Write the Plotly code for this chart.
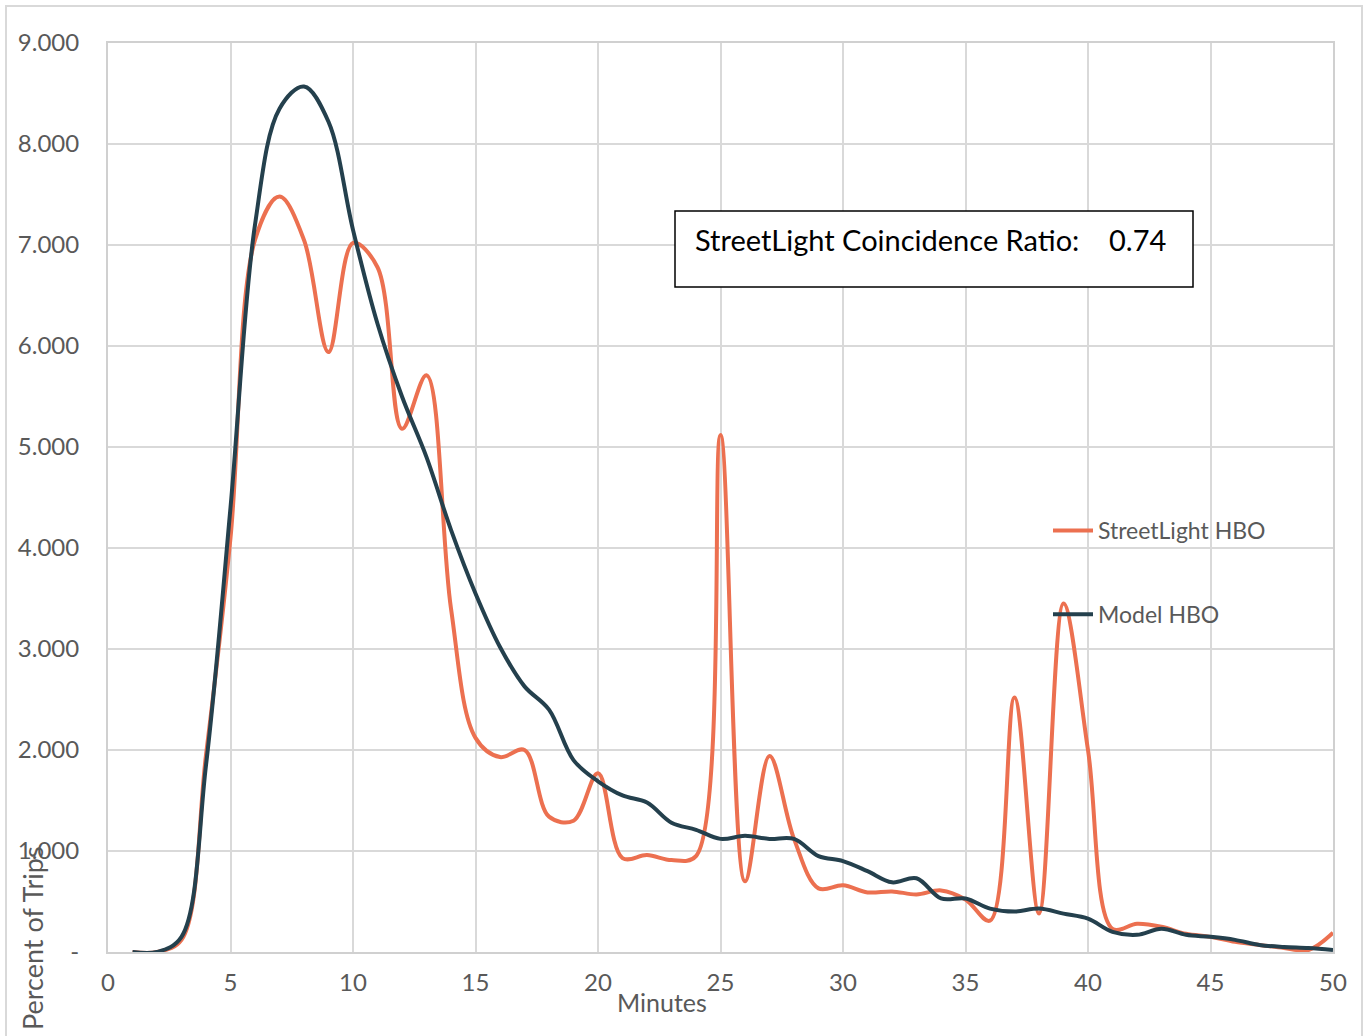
import plotly.graph_objects as go

minutes = list(range(1, 51))

streetlight_hbo = [0.00, 0.00, 0.12, 1.95, 4.10, 7.05, 7.48, 7.05, 5.94, 7.02,
                   6.78, 5.18, 5.71, 3.40, 2.12, 1.93, 2.00, 1.34, 1.30, 1.77,
                   0.93, 0.96, 0.91, 0.95, 5.12, 0.70, 1.94, 1.12, 0.63, 0.66,
                   0.59, 0.60, 0.57, 0.61, 0.52, 0.31, 2.52, 0.38, 3.45, 2.00,
                   0.23, 0.28, 0.25, 0.18, 0.15, 0.10, 0.07, 0.04, 0.02, 0.19]

model_hbo = [0.00, 0.00, 0.15, 1.85, 4.40, 7.20, 8.35, 8.57, 8.22, 7.15,
             6.22, 5.50, 4.90, 4.18, 3.55, 3.02, 2.63, 2.40, 1.90, 1.69,
             1.55, 1.48, 1.28, 1.21, 1.12, 1.15, 1.12, 1.12, 0.95, 0.90,
             0.80, 0.69, 0.73, 0.53, 0.53, 0.43, 0.40, 0.43, 0.38, 0.33,
             0.20, 0.17, 0.23, 0.17, 0.15, 0.12, 0.07, 0.05, 0.04, 0.02]

y_tick_vals = [0, 1, 2, 3, 4, 5, 6, 7, 8, 9]
y_tick_text = ["-", "1.000", "2.000", "3.000", "4.000", "5.000", "6.000", "7.000", "8.000", "9.000"]
x_tick_vals = [0, 5, 10, 15, 20, 25, 30, 35, 40, 45, 50]

ratio_text = "StreetLight Coincidence Ratio:\u00a0\u00a0\u00a0 0.74"

ORANGE = "#EC7050"
DARK = "#24404D"
GRAY_TXT = "#595959"
GRID = "#d9d9d9"

# plot area in pixels
L, R, T, B = 108, 1333, 43, 952
W, H = R - L, B - T


def px(x):
    return (x - L) / W


def py(y):
    return (B - y) / H


fig = go.Figure()
fig.add_trace(go.Scatter(x=minutes, y=streetlight_hbo, mode="lines", name="StreetLight HBO",
                         legendgroup="a",
                         line=dict(color=ORANGE, width=4, shape="spline", smoothing=1.0)))
fig.add_trace(go.Scatter(x=minutes, y=model_hbo, mode="lines", name="Model HBO",
                         legendgroup="b",
                         line=dict(color=DARK, width=4, shape="spline", smoothing=1.0)))

fig.update_layout(
    width=1370, height=1036,
    margin=dict(l=L, r=1370 - R, t=T, b=1036 - B),
    paper_bgcolor="white", plot_bgcolor="white",
    font=dict(family="Lato", size=22, color=GRAY_TXT),
    showlegend=True,
    legend=dict(x=px(1048), xanchor="left", y=py(509), yanchor="top",
                traceorder="grouped", tracegroupgap=51,
                font=dict(family="Lato", size=23, color=GRAY_TXT),
                bgcolor="rgba(0,0,0,0)", itemwidth=40),
    xaxis=dict(range=[0, 50], tickvals=x_tick_vals, showgrid=True, gridcolor=GRID, gridwidth=2,
               zeroline=False, showline=True, mirror=True, linecolor="#d0d0d0", linewidth=2,
               ticks="outside", ticklen=8, tickcolor="rgba(0,0,0,0)",
               tickfont=dict(family="Lato", size=24, color=GRAY_TXT)),
    yaxis=dict(range=[0, 9], tickvals=y_tick_vals, ticktext=y_tick_text, showgrid=True,
               gridcolor=GRID, gridwidth=2, zeroline=False, showline=True, mirror=True,
               linecolor="#d0d0d0", linewidth=2,
               ticks="outside", ticklen=22, tickcolor="rgba(0,0,0,0)",
               tickfont=dict(family="Lato", size=24, color=GRAY_TXT)),
    shapes=[
        # outer chart border
        dict(type="rect", xref="paper", yref="paper",
             x0=px(6), x1=px(1362), y0=py(1045), y1=py(6),
             line=dict(color=GRID, width=2), fillcolor="rgba(0,0,0,0)", layer="below"),
        # ratio text box
        dict(type="rect", xref="paper", yref="paper",
             x0=px(675), x1=px(1193), y0=py(287), y1=py(211),
             line=dict(color="black", width=1.5), fillcolor="white", layer="above"),
    ],
    annotations=[
        dict(text=ratio_text, xref="paper", yref="paper", x=px(693), y=py(239),
             xanchor="left", yanchor="middle", showarrow=False,
             font=dict(family="Lato", size=29, color="black")),
        dict(text="Minutes", xref="paper", yref="paper", x=px(662), y=py(1002),
             xanchor="center", yanchor="middle", showarrow=False,
             font=dict(family="Lato", size=25, color=GRAY_TXT)),
        dict(text="Percent of Trips", xref="paper", yref="paper", x=px(32), y=py(938),
             xanchor="center", yanchor="middle", showarrow=False, textangle=-90,
             font=dict(family="Lato", size=27, color=GRAY_TXT)),
    ],
)

fig.write_html("out.html", config={"displayModeBar": False},
               post_script="document.body.style.margin='0';")
